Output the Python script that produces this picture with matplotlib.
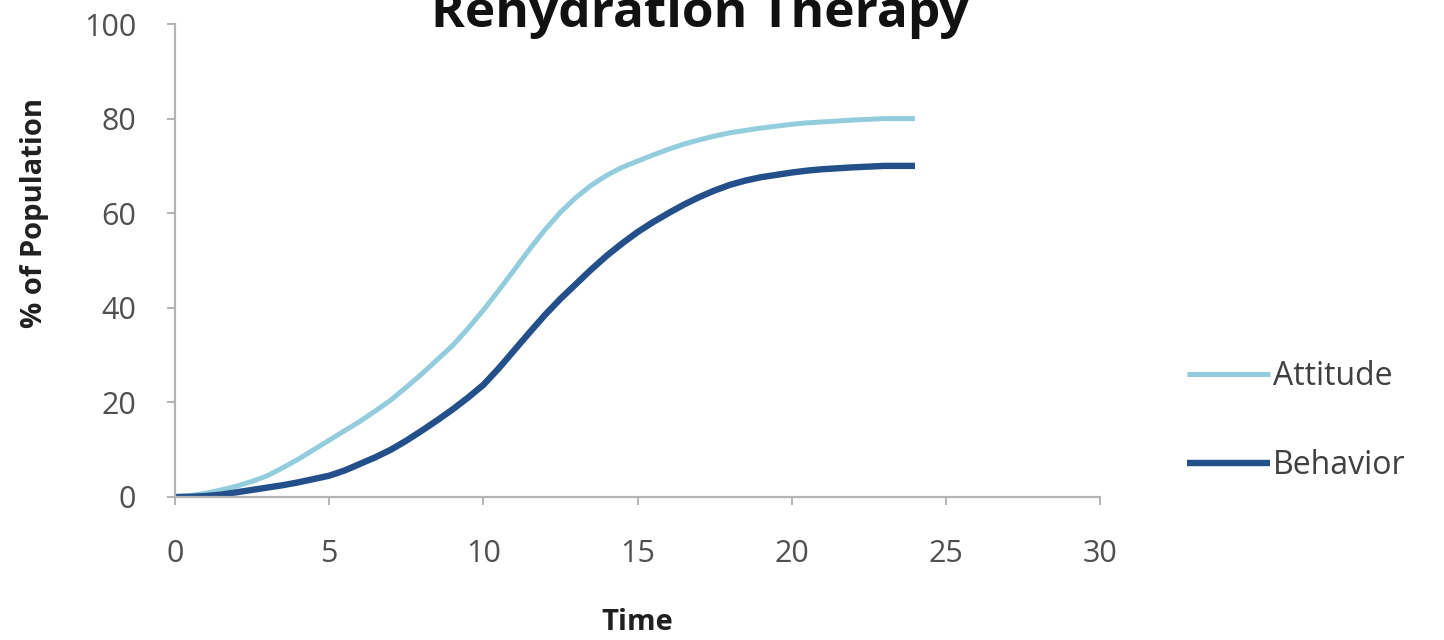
import matplotlib
matplotlib.use("Agg")
import matplotlib.pyplot as plt

# values, every half time step from 0 to 24
time = [0, 0.5, 1, 1.5, 2, 2.5, 3, 3.5, 4, 4.5, 5, 5.5, 6, 6.5, 7, 7.5, 8,
        8.5, 9, 9.5, 10, 10.5, 11, 11.5, 12, 12.5, 13, 13.5, 14, 14.5, 15,
        15.5, 16, 16.5, 17, 17.5, 18, 18.5, 19, 19.5, 20, 20.5, 21, 21.5,
        22, 22.5, 23, 23.5, 24]
attitude = [0, 0.3, 0.8, 1.5, 2.3, 3.3, 4.5, 6.2, 8, 10, 12, 14, 16, 18.2,
            20.5, 23.2, 26, 29, 32, 35.6, 39.5, 43.7, 48, 52.4, 56.5, 60.2,
            63.3, 65.9, 68, 69.7, 71, 72.3, 73.5, 74.6, 75.5, 76.3, 77, 77.5,
            78, 78.4, 78.8, 79.1, 79.3, 79.5, 79.7, 79.85, 80, 80, 80]
behavior = [0, 0.05, 0.2, 0.5, 1, 1.5, 2, 2.5, 3.1, 3.8, 4.5, 5.6, 7, 8.4,
            10, 11.9, 14, 16.2, 18.5, 21, 23.7, 27.2, 31, 34.8, 38.5, 41.9,
            45, 48.1, 51, 53.6, 56, 58.1, 60, 61.8, 63.4, 64.8, 66, 66.9, 67.6,
            68.1, 68.6, 69, 69.3, 69.5, 69.7, 69.85, 70, 70, 70]
x_ticks = [0, 5, 10, 15, 20, 25, 30]
y_ticks = [0, 20, 40, 60, 80, 100]

plt.rcParams["font.family"] = ["Open Sans", "DejaVu Sans"]

W, H = 1444, 640
fig = plt.figure(figsize=(W / 100, H / 100), dpi=100)
ax = fig.add_axes([175 / W, 1 - 497 / H, (1100 - 175) / W, (497 - 24) / H])

ax.plot(time, attitude, color="#93CDDD", lw=3.6, label="Attitude", solid_capstyle="butt")
ax.plot(time, behavior, color="#23508A", lw=4.6, label="Behavior", solid_capstyle="butt")

ax.set_xlim(0, 30)
ax.set_ylim(0, 100)
ax.set_xticks(x_ticks)
ax.set_yticks(y_ticks)
for s in ["top", "right"]:
    ax.spines[s].set_visible(False)
for s in ["left", "bottom"]:
    ax.spines[s].set_color("#b4b4b4")
    ax.spines[s].set_linewidth(1.6)
ax.tick_params(colors="#b4b4b4", labelcolor="#505050", labelsize=22,
               length=6, width=1.4, direction="out")
ax.tick_params(axis="x", pad=24)
ax.tick_params(axis="y", pad=22)

fig.text(35 / W, 1 - 213 / H, "% of Population", rotation=90, ha="center",
         va="center", fontsize=21, fontweight="bold", color="#202020")
fig.text(637 / W, 1 - 622 / H, "Time", ha="center", va="center",
         fontsize=21, fontweight="bold", color="#202020")
# the reference crops the top of its title; keep the same cut
fig.text(700 / W, 1 - 27 / H, "Rehydration Therapy", ha="center",
         va="baseline", fontsize=37, fontweight="bold", color="#111111")

fig.legend(loc="upper left", bbox_to_anchor=(1187 / W, 1 - 360 / H),
           frameon=False, fontsize=23, handlelength=2.6, handletextpad=0.1,
           labelspacing=1.75, borderpad=0, borderaxespad=0, labelcolor="#404040")

fig.savefig("out.png", dpi=100)
